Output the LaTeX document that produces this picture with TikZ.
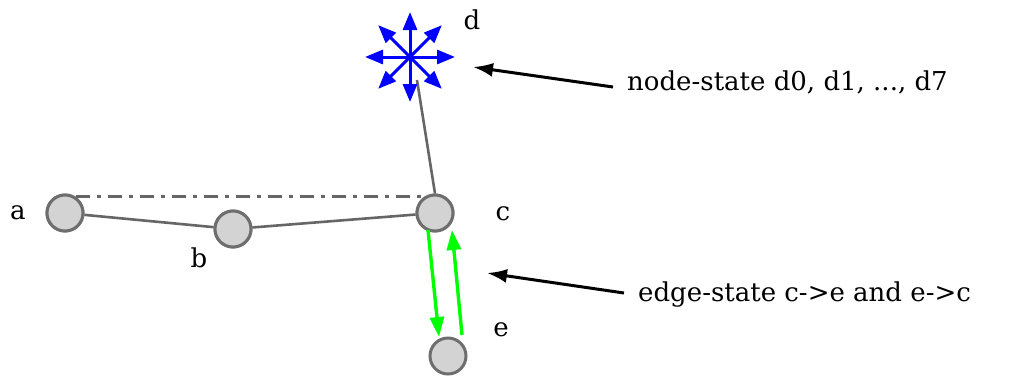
\documentclass[tikz,border=0pt]{standalone}
\usepackage{fontspec}
\setmainfont{DejaVu Serif}
\usetikzlibrary{arrows.meta}
\definecolor{nodefill}{HTML}{D3D3D3}
\definecolor{nodeedge}{HTML}{6E6E6E}
\definecolor{edgegray}{HTML}{666666}
\definecolor{stateblue}{HTML}{0000FF}
\definecolor{stategreen}{HTML}{00FF00}
\begin{document}
\begin{tikzpicture}[x=1pt,y=-1pt,
  vert/.style={circle,draw=nodeedge,fill=nodefill,line width=3pt,minimum size=36pt,inner sep=0pt},
  lbl/.style={font=\fontsize{26}{30}\selectfont,inner sep=0pt},
  note/.style={font=\fontsize{26}{30}\selectfont,inner sep=0pt,anchor=west},
  link/.style={draw=edgegray,line width=2.6pt},
  pointer/.style={draw=black,line width=3pt,-{Latex[length=20pt,width=14pt]}},
  gedge/.style={draw=stategreen,line width=3.4pt,-{Triangle[length=20pt,width=14pt]}},
  bdir/.style={draw=stateblue,line width=3pt,-{Triangle[length=18pt,width=14pt]}}]
\useasboundingbox (0,0) rectangle (1009,375);
\coordinate (dc) at (410,57);
\coordinate (dlow) at (417,80);
\node[vert] (a) at (65,213) {};
\node[vert] (b) at (233,229) {};
\node[vert] (c) at (435,213) {};
\node[vert] (e) at (448,356) {};
\draw[link] (c.north) -- (dlow);
\draw[link,dash pattern=on 14pt off 7pt on 4pt off 7pt] (a.north east) ++(-3,-3) coordinate (adash) -- (c.north west |- adash);
\draw[link] (a) -- (b);
\draw[link] (b) -- (c);
\node[vert] at (a) {};
\node[vert] at (b) {};
\node[vert] at (c) {};
% star
\foreach \ang in {0,45,...,315}{
  \draw[bdir] (dc) -- ++(\ang:-45);
}
% labels
\node[lbl] (la) at (18,213) {a};
\node[lbl] (lb) at (199,258) {b};
\node[lbl] (lc) at (503,214) {c};
\node[lbl] (ld) at (472,20) {d};
\node[lbl] (le) at (501,330) {e};
% green edge states
\coordinate (g1s) at (428,230);
\coordinate (g1e) at (439,337);
\coordinate (g2s) at (462,335);
\coordinate (g2e) at (452,230);
\draw[gedge] (g1s) -- (g1e);
\draw[gedge] (g2s) -- (g2e);
% notes
\node[note] (n1) at (627,82) {node-state d0, d1, ..., d7};
\node[note] (n2) at (638,295) {edge-state c->e and e->c};
\coordinate (p1) at (473,67);
\coordinate (p2) at (487,273);
\draw[pointer] (n1.west) ++(-14,5) -- (p1);
\draw[pointer] (n2.west) ++(-14,-2) -- (p2);
\end{tikzpicture}
\end{document}
